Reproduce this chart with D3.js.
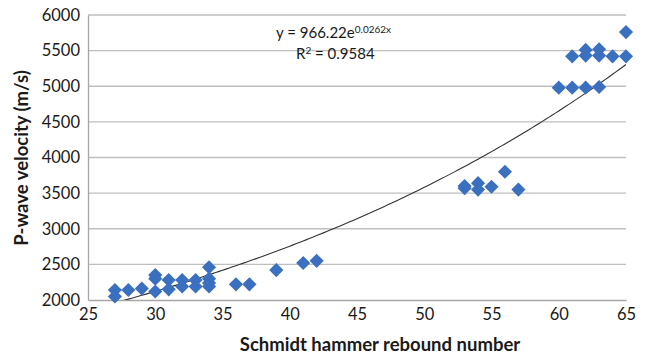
<!DOCTYPE html>
<html>
<head>
<meta charset="utf-8">
<script src="https://cdn.jsdelivr.net/npm/d3@7"></script>
<style>
  body { margin: 0; background: #fff; }
  text { font-family: Lato, "Open Sans", sans-serif; fill: #1a1a1a; }
</style>
</head>
<body>
<div id="chart"></div>
<script>
// rebound number vs P-wave velocity
const reboundNumber = [27, 27, 28, 29, 30, 30, 30, 31, 31, 32, 32, 33, 33, 34, 34, 34, 34, 36, 37, 39, 41, 42,
  53, 53, 54, 54, 55, 56, 57,
  60, 61, 62, 63, 61, 62, 62, 63, 63, 64, 65, 65];
const pWaveVelocity = [2140, 2050, 2140, 2160, 2350, 2300, 2120, 2280, 2150, 2280, 2190, 2280, 2190, 2460, 2300, 2240, 2190, 2220, 2220, 2420, 2520, 2550,
  3570, 3600, 3640, 3550, 3590, 3800, 3550,
  4980, 4980, 4980, 4990, 5420, 5430, 5510, 5430, 5520, 5420, 5420, 5760];
const xTicks = [25, 30, 35, 40, 45, 50, 55, 60, 65];
const yTicks = [2000, 2500, 3000, 3500, 4000, 4500, 5000, 5500, 6000];
const fitA = 966.22, fitB = 0.0262;

const width = 648, height = 360;
const margin = { top: 15, right: 22, bottom: 60, left: 88 };

const svg = d3.select("#chart").append("svg")
    .attr("width", width)
    .attr("height", height);

const x = d3.scaleLinear().domain([25, 65]).range([margin.left, width - margin.right]);
const y = d3.scaleLinear().domain([2000, 6000]).range([height - margin.bottom, margin.top]);

// gridlines
svg.append("g")
    .selectAll("line")
    .data(yTicks.slice(1))
    .enter().append("line")
    .attr("x1", x(25)).attr("x2", x(65))
    .attr("y1", d => y(d)).attr("y2", d => y(d))
    .attr("stroke", "#bfbfbf")
    .attr("stroke-width", 1.3);

// axes
const xAxis = svg.append("g")
    .attr("transform", `translate(0,${y(2000)})`)
    .call(d3.axisBottom(x).tickValues(xTicks).tickFormat(d3.format("d")).tickSize(0).tickPadding(8));
const yAxis = svg.append("g")
    .attr("transform", `translate(${x(25)},0)`)
    .call(d3.axisLeft(y).tickValues(yTicks).tickFormat(d3.format("d")).tickSize(0).tickPadding(8));

[xAxis, yAxis].forEach(g => {
  g.select(".domain").attr("stroke", "#a6a6a6").attr("stroke-width", 1.3);
  g.selectAll("text").style("font-size", "16.5px").attr("fill", "#1a1a1a");
});

// trend line, clipped to the plot
svg.append("clipPath").attr("id", "plotClip")
  .append("rect")
    .attr("x", x(25)).attr("y", y(6000))
    .attr("width", x(65) - x(25)).attr("height", y(2000) - y(6000));

const fitXs = d3.range(27, 65.01, 0.25);
const line = d3.line()
    .x(d => x(d))
    .y(d => y(fitA * Math.exp(fitB * d)));

svg.append("path")
    .datum(fitXs)
    .attr("clip-path", "url(#plotClip)")
    .attr("fill", "none")
    .attr("stroke", "#333")
    .attr("stroke-width", 1.1)
    .attr("d", line);

// diamonds
const points = reboundNumber.map((d, i) => ({ x: d, v: pWaveVelocity[i] }));
svg.append("g")
    .selectAll("path")
    .data(points)
    .enter().append("path")
    .attr("d", d3.symbol().type(d3.symbolSquare).size(100))
    .attr("transform", d => `translate(${x(d.x)},${y(d.v)}) rotate(45)`)
    .attr("fill", "#3b6fbf");

// equation
const eq = svg.append("text")
    .attr("x", 276).attr("y", 38)
    .style("font-size", "15px");
eq.append("tspan").text("y = 966.22e");
eq.append("tspan").attr("dy", -5).style("font-size", "10px").text("0.0262x");

const r2 = svg.append("text")
    .attr("x", 296).attr("y", 59)
    .style("font-size", "15px");
r2.append("tspan").text("R");
r2.append("tspan").attr("dy", -5).style("font-size", "10px").text("2");
r2.append("tspan").attr("dy", 5).text(" = 0.9584");

// axis titles
svg.append("text")
    .attr("x", 380).attr("y", 351)
    .attr("text-anchor", "middle")
    .style("font-size", "18.5px").style("font-weight", "bold")
    .text("Schmidt hammer rebound number");

svg.append("text")
    .attr("transform", `translate(28,158) rotate(-90)`)
    .attr("text-anchor", "middle")
    .style("font-size", "18.5px").style("font-weight", "bold")
    .text("P-wave velocity (m/s)");
</script>
</body>
</html>
